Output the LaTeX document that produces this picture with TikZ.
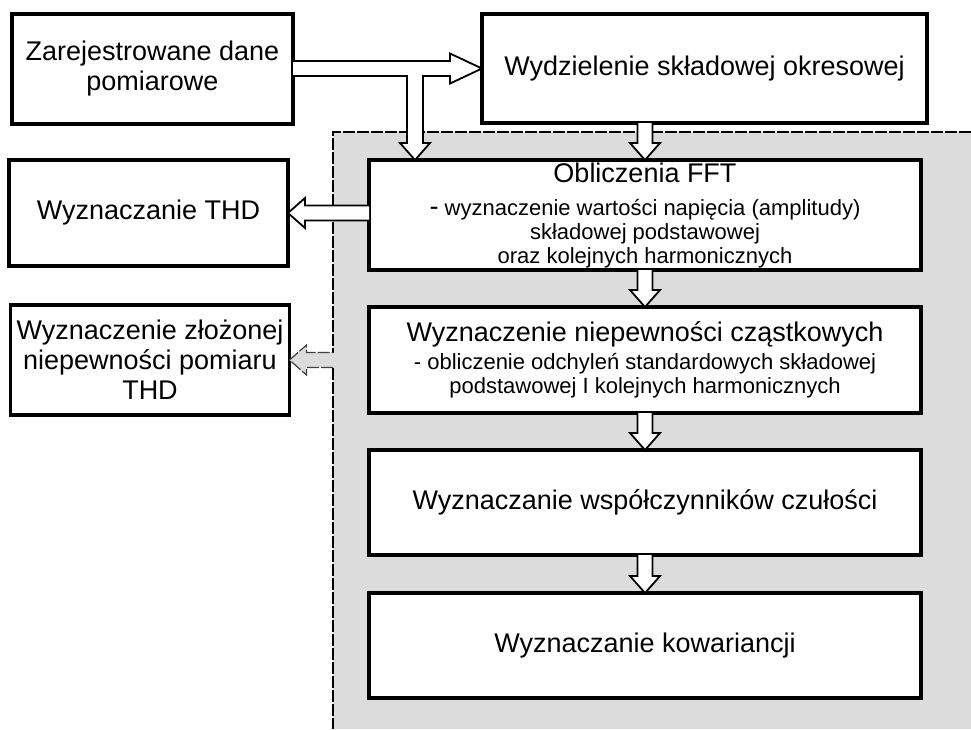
\documentclass[tikz,border=0pt]{standalone}
\usepackage{fontspec}
\setmainfont{Liberation Sans}
\usepackage{tikz}
\usetikzlibrary{positioning,calc}
\definecolor{areagray}{RGB}{220,220,220}
\newcommand{\bigtxt}{\fontsize{27}{30}\selectfont}
\newcommand{\smalltxt}{\fontsize{22}{24}\selectfont}
\tikzstyle{box}=[
	draw=black,
	line width=3.5pt,
	fill=white,
	align=center,
	inner sep=2pt,
	outer sep=0pt,
	font=\bigtxt
]
\tikzstyle{wbox}=[
	box,
	minimum width=552pt,
	minimum height=106pt
]
\tikzstyle{lbox}=[
	box,
	minimum width=279pt,
	minimum height=108pt
]
\tikzstyle{hollow}=[
	draw=black,
	fill=white,
	line width=1.8pt,
	miter limit=20
]
\tikzstyle{grayarrow}=[
	draw=black!75,
	fill=areagray,
	line width=1.2pt,
	dash pattern=on 12pt off 2pt
]
\tikzstyle{areaedge}=[
	draw=black,
	line width=1.5pt,
	dash pattern=on 12pt off 2pt
]
\newcommand{\hollowarrow}[3][hollow]{%
	\coordinate (ha-a) at (#2);
	\coordinate (ha-b) at (#3);
	\coordinate (ha-h) at ($(ha-b)!17pt!(ha-a)$);
	\draw[#1] ($(ha-a)!7.5pt!90:(ha-b)$) -- ($(ha-h)!7.5pt!-90:(ha-a)$)
		-- ($(ha-h)!15pt!-90:(ha-a)$) -- (ha-b) -- ($(ha-h)!15pt!90:(ha-a)$)
		-- ($(ha-h)!7.5pt!90:(ha-a)$) -- ($(ha-a)!7.5pt!-90:(ha-b)$);
}
\begin{document}
\begin{tikzpicture}[x=1pt, y=-1pt]
\useasboundingbox (0,0) rectangle (971,729);

% gray area behind the computation steps
\node[fill=areagray, inner sep=0pt, outer sep=0pt, anchor=north west,
	minimum width=638pt, minimum height=597pt] (area) at (333,132) {};

\node[box, minimum width=281pt, minimum height=110pt] (dane) at (152.5,69) {Zarejestrowane dane\\pomiarowe};
\node[box, minimum width=445pt, minimum height=109pt] (okres) at (704.5,68.5) {Wydzielenie składowej okresowej};

\node[wbox, minimum height=110pt, font=\smalltxt] (fft) at (645,215)
	{{\bigtxt Obliczenia FFT}\\[9pt]{\bigtxt -} wyznaczenie wartości napięcia (amplitudy)\\składowej podstawowej\\oraz kolejnych harmonicznych};
\node[wbox, below=37pt of fft, font=\smalltxt] (niep)
	{{\bigtxt Wyznaczenie niepewności cząstkowych}\\[3.5pt]- obliczenie odchyleń standardowych składowej\\podstawowej I kolejnych harmonicznych};
\node[wbox, below=37pt of niep, minimum height=105pt] (czul) {Wyznaczanie współczynników czułości};
\node[wbox, below=38pt of czul, minimum height=105pt] (kow) {Wyznaczanie kowariancji};

\node[lbox, minimum height=106pt] (thd) at (148.5,213) {Wyznaczanie THD};
\node[lbox, minimum height=110pt] (zloz) at (150,360) {Wyznaczenie złożonej\\niepewności pomiaru\\THD};

% dashed edge of the area
\draw[areaedge] (area.north east) -- (area.north west) -- ($(area.west |- zloz.east)+(0,-7.5)$);
\draw[areaedge] ($(area.west |- zloz.east)+(0,7.5)$) -- (area.south west);

% input splits to the right and down
\coordinate (fftin) at ($(fft.north west)+(46,0)$);
\draw[hollow] ($(dane.east |- okres.west)+(0,-7.5)$) -- ($(okres.west)+(-32,-7.5)$)
	-- ($(okres.west)+(-32,-15)$) -- (okres.west) -- ($(okres.west)+(-32,15)$)
	-- ($(okres.west)+(-32,7.5)$) -- ($(fftin |- okres.west)+(8,7.5)$)
	-- ($(fftin)+(8,-17)$) -- ($(fftin)+(15,-17)$) -- (fftin)
	-- ($(fftin)+(-15,-17)$) -- ($(fftin)+(-8,-17)$)
	-- ($(fftin |- okres.west)+(-8,7.5)$) -- ($(dane.east |- okres.west)+(0,7.5)$);

\hollowarrow{okres.south -| fft.north}{fft.north}
\hollowarrow{fft.west |- thd.east}{thd.east}
\hollowarrow{fft.south}{niep.north}
\hollowarrow{niep.south}{czul.north}
\hollowarrow{czul.south}{kow.north}
\hollowarrow[grayarrow]{area.west |- zloz.east}{zloz.east}

\end{tikzpicture}
\end{document}
